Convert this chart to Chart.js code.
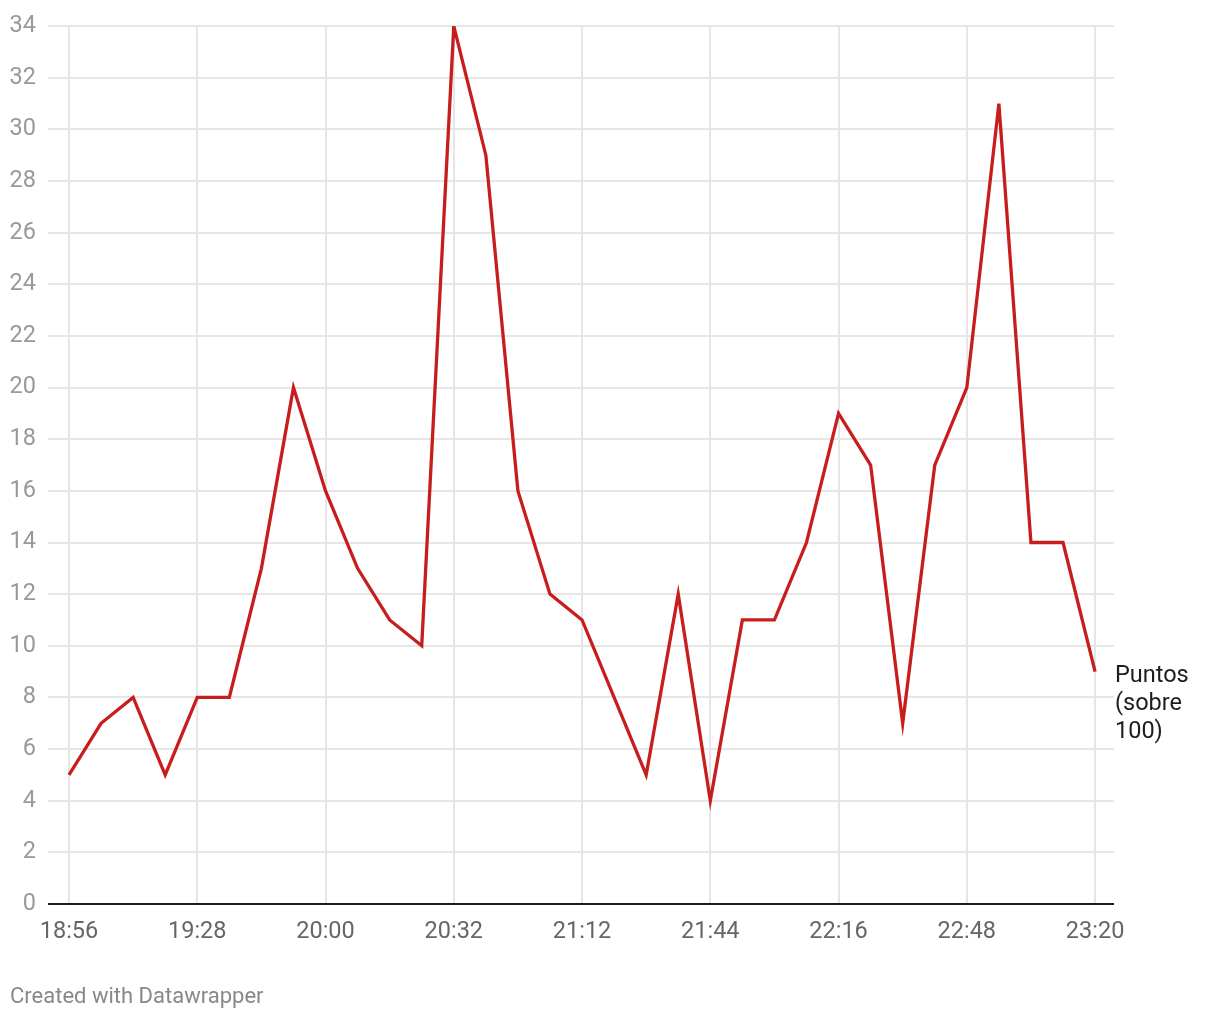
<!DOCTYPE html>
<html>
<head>
<meta charset="utf-8">
<script src="https://cdn.jsdelivr.net/npm/chart.js@4"></script>
<style>
  html, body { margin: 0; padding: 0; background: #fff; }
  #wrap { position: relative; width: 1220px; height: 1020px; }
</style>
</head>
<body>
<div id="wrap"><canvas id="c" width="1220" height="1020"></canvas></div>
<script>
// Data
const tickLabels = ["18:56", "19:28", "20:00", "20:32", "21:12", "21:44", "22:16", "22:48", "23:20"];
const values = [5, 7, 8, 5, 8, 8, 13, 20, 16, 13, 11, 10, 34, 29, 16, 12, 11, 8, 5, 12, 4, 11, 11, 14, 19, 17, 7, 17, 20, 31, 14, 14, 9];
const seriesLabel = ["Puntos", "(sobre", "100)"];
const footer = "Created with Datawrapper";

const FONT = "Roboto, 'Noto Sans', sans-serif";
const points = values.map((v, i) => ({ x: i, y: v }));

const labelPlugin = {
  id: 'labels',
  afterDraw(chart) {
    const ctx = chart.ctx;
    const meta = chart.getDatasetMeta(0);
    const last = meta.data[meta.data.length - 1];
    ctx.save();
    ctx.font = "23.5px " + FONT;
    ctx.fillStyle = "#1d1d1d";
    ctx.textAlign = "left";
    ctx.textBaseline = "middle";
    seriesLabel.forEach((t, i) => ctx.fillText(t, chart.chartArea.right + 1, last.y + 5 + i * 28));
    ctx.font = "22px " + FONT;
    ctx.fillStyle = "#888";
    ctx.fillText(footer, 10, 997);
    ctx.restore();
  }
};

new Chart(document.getElementById('c'), {
  type: 'line',
  data: {
    datasets: [{
      data: points,
      borderColor: '#c71e1d',
      borderWidth: 3.3,
      pointRadius: 0,
      tension: 0,
      fill: false
    }]
  },
  options: {
    responsive: false,
    animation: false,
    events: [],
    layout: { padding: { top: 22, right: 106, left: 0, bottom: 0 } },
    plugins: { legend: { display: false }, tooltip: { enabled: false } },
    scales: {
      x: {
        type: 'linear',
        min: -0.655,
        max: values.length - 1 + 0.59,
        afterBuildTicks(axis) {
          axis.ticks = tickLabels.map((_, i) => ({ value: i * 4 }));
        },
        afterFit(axis) { axis.height = 116; },
        border: { display: false },
        grid: { color: '#e6e6e6', lineWidth: 2, drawTicks: false },
        ticks: {
          padding: 14,
          color: '#666',
          font: { family: FONT, size: 23.5 },
          maxRotation: 0,
          autoSkip: false,
          callback: (v) => tickLabels[Math.round(v / 4)]
        }
      },
      y: {
        min: 0,
        max: 34,
        afterFit(axis) { axis.width = 48; },
        border: { display: false },
        grid: {
          drawTicks: false,
          color: (c) => c.tick && c.tick.value === 0 ? '#1d1d1d' : '#e6e6e6',
          lineWidth: 2
        },
        ticks: {
          stepSize: 2,
          padding: 12,
          color: '#999',
          font: { family: FONT, size: 23.5 }
        }
      }
    }
  },
  plugins: [labelPlugin]
});
</script>
</body>
</html>
